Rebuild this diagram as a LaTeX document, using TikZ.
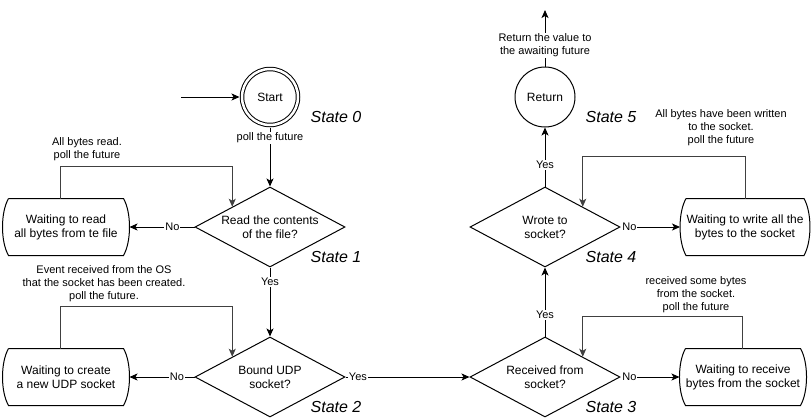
\documentclass[tikz,border=0pt]{standalone}
\usepackage{fontspec}
\setmainfont{Liberation Sans}
\usepackage{tikz}
\usetikzlibrary{shapes.geometric,arrows.meta}
\tikzset{
  font={\fontsize{12pt}{14pt}\selectfont}}
\newcommand{\waitoutline}[1]{%
  \draw (#1.north west) -- (#1.north east)
    .. controls +(8,14) and +(8,-14) .. (#1.south east) -- (#1.south west)
    .. controls +(-8,-14) and +(-8,14) .. (#1.north west);}

\begin{document}
\begin{tikzpicture}[x=1pt,y=-1pt,line width=1pt]
\tikzstyle{every node}+=[inner sep=0pt]
\tikzstyle{state}=[circle,draw,minimum size=60pt]
\tikzstyle{choice}=[diamond,draw,aspect=1.875,minimum width=150pt,minimum height=80pt,align=center]
\tikzstyle{wait}=[minimum width=114pt,minimum height=56pt,align=center]
\tikzstyle{arr}=[-{Stealth[length=8pt,width=7pt,inset=2pt]}]
\tikzstyle{back}=[black!75]
\tikzstyle{lbl}=[fill=white,inner sep=1pt,font={\fontsize{11pt}{13pt}\selectfont}]
\tikzstyle{note}=[align=center,font={\fontsize{11pt}{13pt}\selectfont}]
\tikzstyle{statelbl}=[font={\fontsize{16pt}{18pt}\selectfont\itshape}]
\useasboundingbox (0,0) rectangle (811,418);
\node[state,double,double distance=2.5pt,minimum size=56pt,outer sep=2.5pt] (start) at (270,97) {Start};
\node[state] (ret) at (545,97) {Return};
\node[choice] (d1) at (270,227) {Read the contents\\of the file?};
\node[choice] (d2) at (270,377) {Bound UDP\\socket?};
\node[choice] (d3) at (545,377) {Received from\\socket?};
\node[choice] (d4) at (545,227) {Wrote to\\socket?};
\node[wait] (w1) at (66,227) {Waiting to read\\all bytes from te file};
\node[wait] (w2) at (66,377) {Waiting to create\\a new UDP socket};
\node[wait] (w3) at (743,377) {Waiting to receive\\bytes from the socket};
\node[wait] (w4) at (745,227) {Waiting to write all the\\bytes to the socket};
\waitoutline{w1}
\waitoutline{w2}
\waitoutline{w3}
\waitoutline{w4}
\node[statelbl] (s0) at (336,117) {State 0};
\node[statelbl] (s1) at (336,257) {State 1};
\node[statelbl] (s2) at (336,407) {State 2};
\node[statelbl] (s3) at (611,407) {State 3};
\node[statelbl] (s4) at (611,257) {State 4};
\node[statelbl] (s5) at (611,117) {State 5};
\node[note] (n1) at (87,149) {All bytes read.\\poll the future};
\node[note] (n2) at (104,284) {Event received from the OS\\that the socket has been created.\\poll the future.};
\node[note] (n3) at (696,295) {received some bytes\\from the socket.\\poll the future};
\node[note] (n4) at (721,128) {All bytes have been written\\to the socket.\\poll the future};
\coordinate (init) at (181,97);
\coordinate (out) at (545,10);
\draw[arr] (init) -- (start);
\draw[arr] (start) -- node[lbl,pos=0.18] {poll the future} (d1);
\draw[arr] (d1) -- node[lbl,pos=0.21] {Yes} (d2);
\draw[arr] (d1.west) -- node[lbl,pos=0.34] {No} ([xshift=6pt]w1.east);
\draw[arr] (d2.west) -- node[lbl,pos=0.27] {No} ([xshift=6pt]w2.east);
\draw[arr] (d2.east) -- node[lbl,pos=0.1] {Yes} (d3.west);
\draw[arr] (d3.east) -- node[lbl,pos=0.15] {No} ([xshift=-6pt]w3.west);
\draw[arr] (d4.east) -- node[lbl,pos=0.15] {No} ([xshift=-6pt]w4.west);
\draw[arr] (d3) -- node[lbl,pos=0.31] {Yes} (d4);
\draw[arr] (d4) -- node[lbl,pos=0.37] {Yes} (ret);
\draw[arr] (ret) -- node[lbl,pos=0.37,align=center] {Return the value to\\the awaiting future} (out);
\draw[arr,back] ([xshift=-6pt]w1.north) -- ++(0,-32) -| (d1.north west);
\draw[arr,back] ([xshift=-6pt]w2.north) -- ++(0,-42) -| (d2.north west);
\draw[arr,back] ([xshift=-1pt]w3.north) -- ++(0,-32) -| (d3.north east);
\draw[arr,back] (w4.north) -- ++(0,-42) -| (d4.north east);
\end{tikzpicture}
\end{document}
